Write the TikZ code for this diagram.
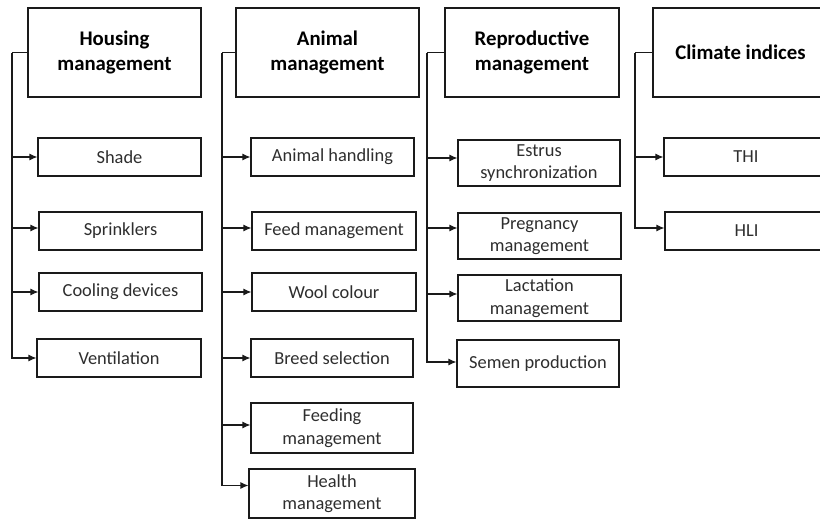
\documentclass[tikz,border=0pt]{standalone}
\usepackage{fontspec}
\setmainfont{Carlito}
\usetikzlibrary{arrows.meta}
\definecolor{txt}{HTML}{2E2E2E}
\definecolor{ln}{HTML}{1A1A1A}
\tikzset{
  hdr/.style={draw=ln, line width=1.1pt, align=center, font=\fontsize{20.8}{24.5}\selectfont\bfseries, text=black, inner sep=0pt},
  leaf/.style={draw=ln, line width=1.1pt, align=center, font=\fontsize{18.4}{22.5}\selectfont, text=txt, inner sep=0pt},
  link/.style={draw=ln, line width=1.1pt},
  arr/.style={draw=ln, line width=1.1pt, -{Latex[length=8pt,width=7pt]}},
}
\begin{document}
\begin{tikzpicture}[x=1pt,y=-1pt]
\useasboundingbox (0,0) rectangle (820,520);
\clip (0,0) rectangle (820,520);
\fill[white] (0,0) rectangle (820,520);

% headers
\node[hdr, minimum width=173pt, minimum height=89pt] (hh) at (114.5,52.5) {Housing\\management};
\node[hdr, minimum width=183pt, minimum height=89pt] (ah) at (327.5,52.5) {Animal\\management};
\node[hdr, minimum width=174pt, minimum height=89pt] (rh) at (532,52.5) {Reproductive\\management};
\node[hdr, minimum width=175pt, minimum height=89pt] (ch) at (740.5,52.5) {Climate indices};

% housing children
\node[leaf, minimum width=163pt, minimum height=38pt] (shade) at (119.5,157) {Shade};
\node[leaf, minimum width=163pt, minimum height=38pt] (sprink) at (120.5,231) {Sprinklers};
\node[leaf, minimum width=163pt, minimum height=38pt] (cool) at (120.5,292) {Cooling devices};
\node[leaf, minimum width=164pt, minimum height=38pt] (vent) at (119,358) {Ventilation};

% animal children
\node[leaf, minimum width=163pt, minimum height=38pt] (handl) at (332.5,157) {Animal handling};
\node[leaf, minimum width=164pt, minimum height=38pt] (feed) at (334,231) {Feed management};
\node[leaf, minimum width=164pt, minimum height=38pt] (wool) at (334,292) {Wool colour};
\node[leaf, minimum width=162pt, minimum height=38pt] (breed) at (332,358) {Breed selection};
\node[leaf, minimum width=162pt, minimum height=50pt] (feeding) at (332,428) {Feeding\\management};
\node[leaf, minimum width=166pt, minimum height=49pt] (health) at (332,493.5) {Health\\management};

% reproductive children
\node[leaf, minimum width=162pt, minimum height=46pt] (estrus) at (539,163) {Estrus\\synchronization};
\node[leaf, minimum width=163pt, minimum height=46pt] (preg) at (539.5,236) {Pregnancy\\management};
\node[leaf, minimum width=163pt, minimum height=46pt] (lact) at (539.5,298) {Lactation\\management};
\node[leaf, minimum width=162pt, minimum height=47pt] (semen) at (538,363.5) {Semen production};

% climate children
\node[leaf, minimum width=164pt, minimum height=38pt] (thi) at (746,157) {THI};
\node[leaf, minimum width=163pt, minimum height=38pt] (hli) at (746.5,231) {HLI};

% trunk coordinates
\coordinate (hx) at (12,52.5);
\coordinate (ax) at (222,52.5);
\coordinate (rx) at (427,52.5);
\coordinate (cx) at (635,52.5);

\draw[link] (hh.west) -- (hx);
\draw[link] (ah.west) -- (ax);
\draw[link] (rh.west) -- (rx);
\draw[link] (ch.west) -- (cx);

\draw[arr] (hx) |- (shade.west);
\draw[arr] (hx) |- ([yshift=3pt]sprink.west);
\draw[arr] (hx) |- (cool.west);
\draw[arr] (hx) |- (vent.west);

\draw[arr] (ax) |- (handl.west);
\draw[arr] (ax) |- ([yshift=3pt]feed.west);
\draw[arr] (ax) |- (wool.west);
\draw[arr] (ax) |- (breed.west);
\draw[arr] (ax) |- ([yshift=3pt]feeding.west);
\draw[arr] (ax) |- ([yshift=8pt]health.west);

\draw[arr] (rx) |- ([yshift=5pt]estrus.west);
\draw[arr] (rx) |- ([yshift=8pt]preg.west);
\draw[arr] (rx) |- ([yshift=4pt]lact.west);
\draw[arr] (rx) |- ([yshift=1.5pt]semen.west);

\draw[arr] (cx) |- (thi.west);
\draw[arr] (cx) |- ([yshift=3pt]hli.west);
\end{tikzpicture}
\end{document}
